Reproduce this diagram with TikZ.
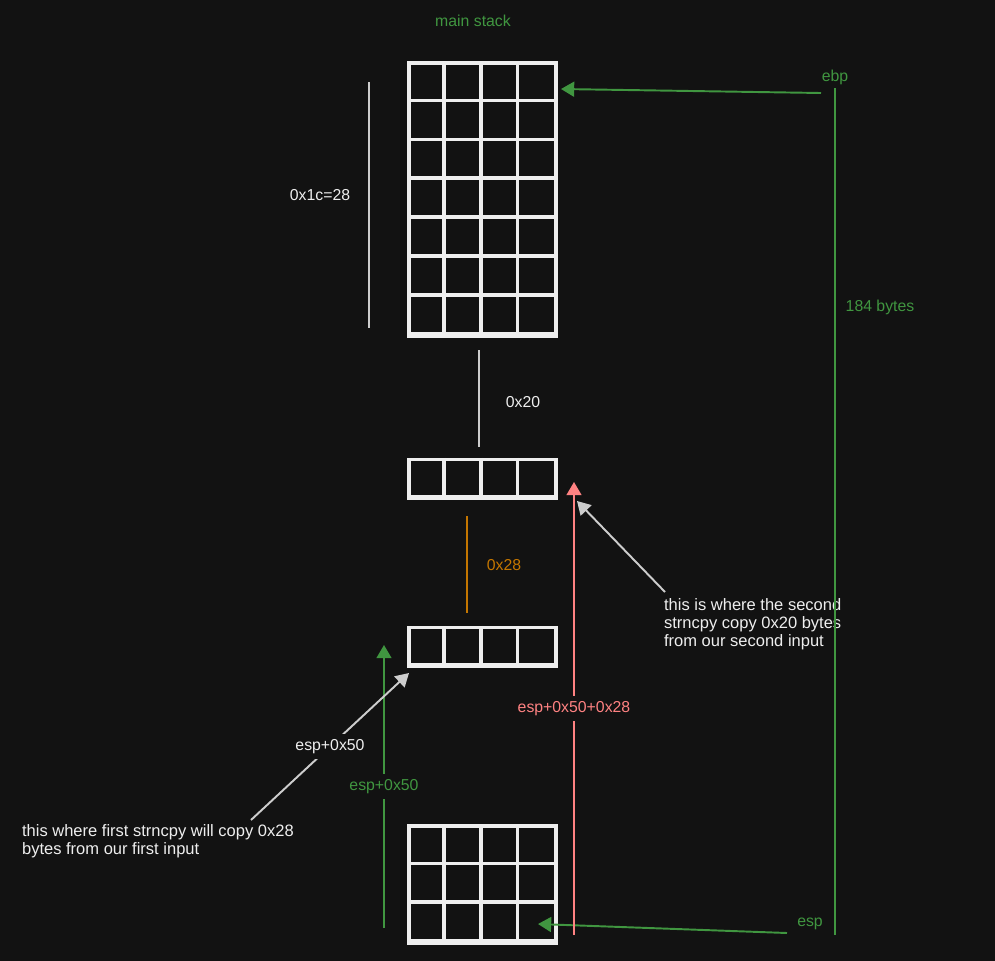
\documentclass[tikz,border=0pt]{standalone}
\usepackage{fontspec}
\setmainfont{Liberation Sans}
\usetikzlibrary{arrows.meta}
\definecolor{bgdark}{RGB}{18,18,18}
\definecolor{stackgreen}{RGB}{64,150,64}
\definecolor{stackred}{RGB}{255,130,130}
\definecolor{stackorange}{RGB}{196,118,0}
\definecolor{chalk}{RGB}{238,238,238}
\definecolor{chalkdim}{RGB}{205,205,205}
\begin{document}
\begin{tikzpicture}[x=0.02cm,y=-0.02cm,
  cellline/.style={draw=chalk,line width=2pt},
  lbl/.style={font=\fontsize{9}{10}\selectfont,inner sep=1pt},
  notelbl/.style={lbl,font=\fontsize{9.4}{10.3}\selectfont,text=chalk,align=left,anchor=west},
  gaplbl/.style={lbl,fill=bgdark,inner sep=3pt},
  headtip/.style={-{Triangle[length=7.5pt,width=8.5pt]}},
  greenline/.style={draw=stackgreen,line width=1.1pt},
  sizeline/.style={draw=chalkdim,line width=1.1pt}]
  \useasboundingbox (0,0) rectangle (995,961);
  \fill[bgdark] (0,0) rectangle (995,961);

  % the four blocks of the stack
  \foreach \name/\cy/\rows in {mainstk/199.5/7, secbuf/479/1, firstbuf/647/1, espstk/884.5/3} {
    \node[cellline,minimum width=2.94cm,minimum height=\rows*0.78cm,inner sep=0pt] (\name) at (482.5,\cy) {};
    \foreach \c in {1,2,3}
      \draw[cellline] ([xshift=\c*0.735cm]\name.north west) -- ([xshift=\c*0.735cm]\name.south west);
    \foreach \r in {1,...,\rows}
      \draw[cellline] ([yshift=-\r*0.78cm]\name.north west) -- ([yshift=-\r*0.78cm]\name.north east);
  }

  \node[lbl,text=stackgreen] (title) at (473,21) {main stack};
  \node[lbl,text=stackgreen] (ebp) at (835,77) {ebp};
  \node[lbl,text=stackgreen] (esp) at (810,924) {esp};
  \node[lbl,text=stackgreen] (total) at (880,307) {184 bytes};
  \node[lbl,text=chalk] (mainsize) at (320,195) {0x1c=28};
  \node[lbl,text=chalk] (gapsize) at (523,402) {0x20};
  \node[lbl,text=stackorange] (bufsize) at (504,565) {0x28};
  \node[notelbl] (note2) at (662,624)
    {this is where the second\\strncpy copy 0x20 bytes\\from our second input};
  \node[notelbl] (note1) at (20,841)
    {this where first strncpy will copy 0x28\\bytes from our first input};

  % sizes
  \draw[sizeline] (369,82) -- (369,328);
  \draw[sizeline] (479,350) -- (479,447);
  \draw[sizeline,draw=stackorange] (467,516) -- (467,613);
  \draw[greenline] (835,88) -- (835,935);

  % pointers
  \coordinate (ebpfrom) at (821,93);
  \coordinate (ebptip) at (561,89);
  \coordinate (espfrom) at (787,933);
  \coordinate (esptip) at (538,924);
  \draw[greenline,headtip] (ebpfrom) -- (ebptip);
  \draw[greenline,headtip] (espfrom) -- (esptip);

  \coordinate (redfoot) at (574,935);
  \coordinate (redtip) at (574,482);
  \draw[draw=stackred,line width=1.1pt,headtip] (redfoot) -- node[gaplbl,text=stackred,pos=0.5] {esp+0x50+0x28} (redtip);

  \coordinate (greenfoot) at (384,928);
  \coordinate (greentip) at (384,645);
  \draw[greenline,headtip] (greenfoot) -- node[gaplbl,text=stackgreen,pos=0.5] {esp+0x50} (greentip);

  \coordinate (note1from) at (251,820);
  \coordinate (note1tip) at (409,673);
  \draw[sizeline,headtip] (note1from) -- node[gaplbl,text=chalk,pos=0.5] {esp+0x50} (note1tip);

  \coordinate (note2from) at (665,592);
  \coordinate (note2tip) at (577,501);
  \draw[sizeline,headtip] (note2from) -- (note2tip);
\end{tikzpicture}
\end{document}
